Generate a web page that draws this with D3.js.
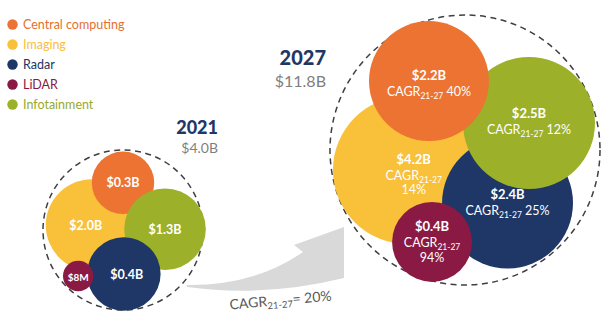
<!DOCTYPE html>
<html><head><meta charset="utf-8">
<script src="https://cdn.jsdelivr.net/npm/d3@7"></script>
<style>html,body{margin:0;padding:0;background:#fff;}svg{display:block;font-family:Lato,"Open Sans",sans-serif;}</style>
</head><body><svg id="c" width="605" height="327"></svg>
<script>
// ---------- data ----------
const segments = ["Central computing", "Imaging", "Radar", "LiDAR", "Infotainment"];
const colors   = ["#EC7332", "#F9C03A", "#1E3767", "#8A1A44", "#9CB02A"];
const years    = [2021, 2027];
const totals   = [4.0, 11.8];               // $B
const values2021 = [0.3, 2.0, 0.4, 0.008, 1.3]; // $B
const values2027 = [2.2, 4.2, 2.4, 0.4, 2.5];   // $B
const cagr2127   = [40, 14, 25, 94, 12];        // %
const overallCagr = 20;                          // %

// ---------- layout (unit coords inside each dashed circle) ----------
const panels = [
  {cx:123, cy:230, R:80, titleX:218, titleY:134, totY:153, titleSize:18, totSize:14,
   order:[1,0,4,2,3],
   pos:[[0.0,-0.59,0.39],[-0.39,-0.06,0.575],[0.01,0.55,0.46],[-0.56,0.575,0.19],[0.525,-0.01,0.51]]},
  {cx:465, cy:150, R:135, titleX:326, titleY:65, totY:87, titleSize:20, totSize:16,
   order:[1,2,4,0,3],
   pos:[[-0.267,-0.511,0.444],[-0.43,0.148,0.548],[0.315,0.393,0.485],[-0.244,0.681,0.296],[0.474,-0.2,0.489]]}
];
const labelShift2027 = [[0,-0.01],[0.05,-0.045],[0,-0.03],[0,-0.08],[0,-0.035]];
const wrapCagr = [false, true, false, true, false];

const fmt = v => v < 0.1 ? `$${Math.round(v*1000)}M` : `$${v.toFixed(1)}B`;
const svg = d3.select("#c");
svg.append("rect").attr("width",605).attr("height",327).attr("fill","#fff");

// ---------- legend ----------
const ly = d3.scalePoint().domain(segments).range([24.5, 104.5]);
const leg = svg.append("g");
segments.forEach((s,i)=>{
  leg.append("circle").attr("cx",12.5).attr("cy",ly(s)).attr("r",5.2).attr("fill",colors[i]);
  leg.append("text").attr("x",23).attr("y",ly(s)+4.5).attr("font-size",12.5)
     .attr("fill", d3.color(colors[i]).darker(i===1?0:0.1)).text(s);
});

// ---------- growth arrow ----------
const arrow = d3.path();
arrow.moveTo(187,285);
arrow.quadraticCurveTo(255,285.5,303,252);
arrow.lineTo(294,245);
arrow.lineTo(344,227);
arrow.lineTo(344,278);
arrow.quadraticCurveTo(264.5,297.5,187,287);
arrow.closePath();
svg.append("path").attr("d",arrow.toString()).attr("fill","#D9D9D9");

const cg = svg.append("text").attr("transform","translate(281,305) rotate(-5)")
  .attr("text-anchor","middle").attr("font-size",14).attr("fill","#595959");
cg.append("tspan").text("CAGR");
cg.append("tspan").attr("font-size",9.5).attr("dy",3).text("21-27");
cg.append("tspan").attr("dy",-3).text(`= ${overallCagr}%`);

// ---------- bubble panels ----------
const valuesByYear = [values2021, values2027];
panels.forEach((p,pi)=>{
  const x = d3.scaleLinear().domain([-1,1]).range([p.cx-p.R, p.cx+p.R]);
  const y = d3.scaleLinear().domain([-1,1]).range([p.cy-p.R, p.cy+p.R]);
  const r = d3.scaleLinear().domain([0,1]).range([0,p.R]);
  const g = svg.append("g");
  g.append("circle").attr("cx",x(0)).attr("cy",y(0)).attr("r",r(1))
   .attr("fill","none").attr("stroke","#3F3F3F").attr("stroke-width",1.5).attr("stroke-dasharray","6,4.5");
  p.order.forEach(i=>{
    const [ux,uy,ur] = p.pos[i];
    g.append("circle").attr("cx",x(ux)).attr("cy",y(uy)).attr("r",r(ur)).attr("fill",colors[i]);
  });
  // title
  g.append("text").attr("x",p.titleX).attr("y",p.titleY).attr("text-anchor","end")
   .attr("font-size",p.titleSize).attr("font-weight",900).attr("fill","#1E3767").text(years[pi]);
  g.append("text").attr("x",p.titleX).attr("y",p.totY).attr("text-anchor","end")
   .attr("font-size",p.totSize).attr("fill","#7F7F7F").text(`$${totals[pi].toFixed(1)}B`);
  // labels
  const vals = valuesByYear[pi];
  p.order.forEach(i=>{
    const [ux,uy] = p.pos[i];
    if (pi===0){
      g.append("text").attr("x",x(ux)+(i===1?-6:i===2?3:0)).attr("y",y(uy)+4.5).attr("text-anchor","middle")
       .attr("font-size", i===3?10:12.5).attr("font-weight",700).attr("fill","#fff").text(fmt(vals[i]));
    } else {
      const [sx,sy] = labelShift2027[i];
      const tx = x(ux+sx), ty = y(uy+sy);
      g.append("text").attr("x",tx).attr("y",ty).attr("text-anchor","middle")
       .attr("font-size",13).attr("font-weight",700).attr("fill","#fff").text(fmt(vals[i]));
      const t = g.append("text").attr("x",tx).attr("y",ty+16).attr("text-anchor","middle")
       .attr("font-size",12.5).attr("fill","#fff");
      t.append("tspan").text("CAGR");
      t.append("tspan").attr("font-size",8.5).attr("dy",3).text("21-27");
      if (wrapCagr[i]) {
        g.append("text").attr("x",tx).attr("y",ty+30.5).attr("text-anchor","middle")
         .attr("font-size",12.5).attr("fill","#fff").text(`${cagr2127[i]}%`);
      } else {
        t.append("tspan").attr("dy",-3).text(` ${cagr2127[i]}%`);
      }
    }
  });
});
</script></body></html>
